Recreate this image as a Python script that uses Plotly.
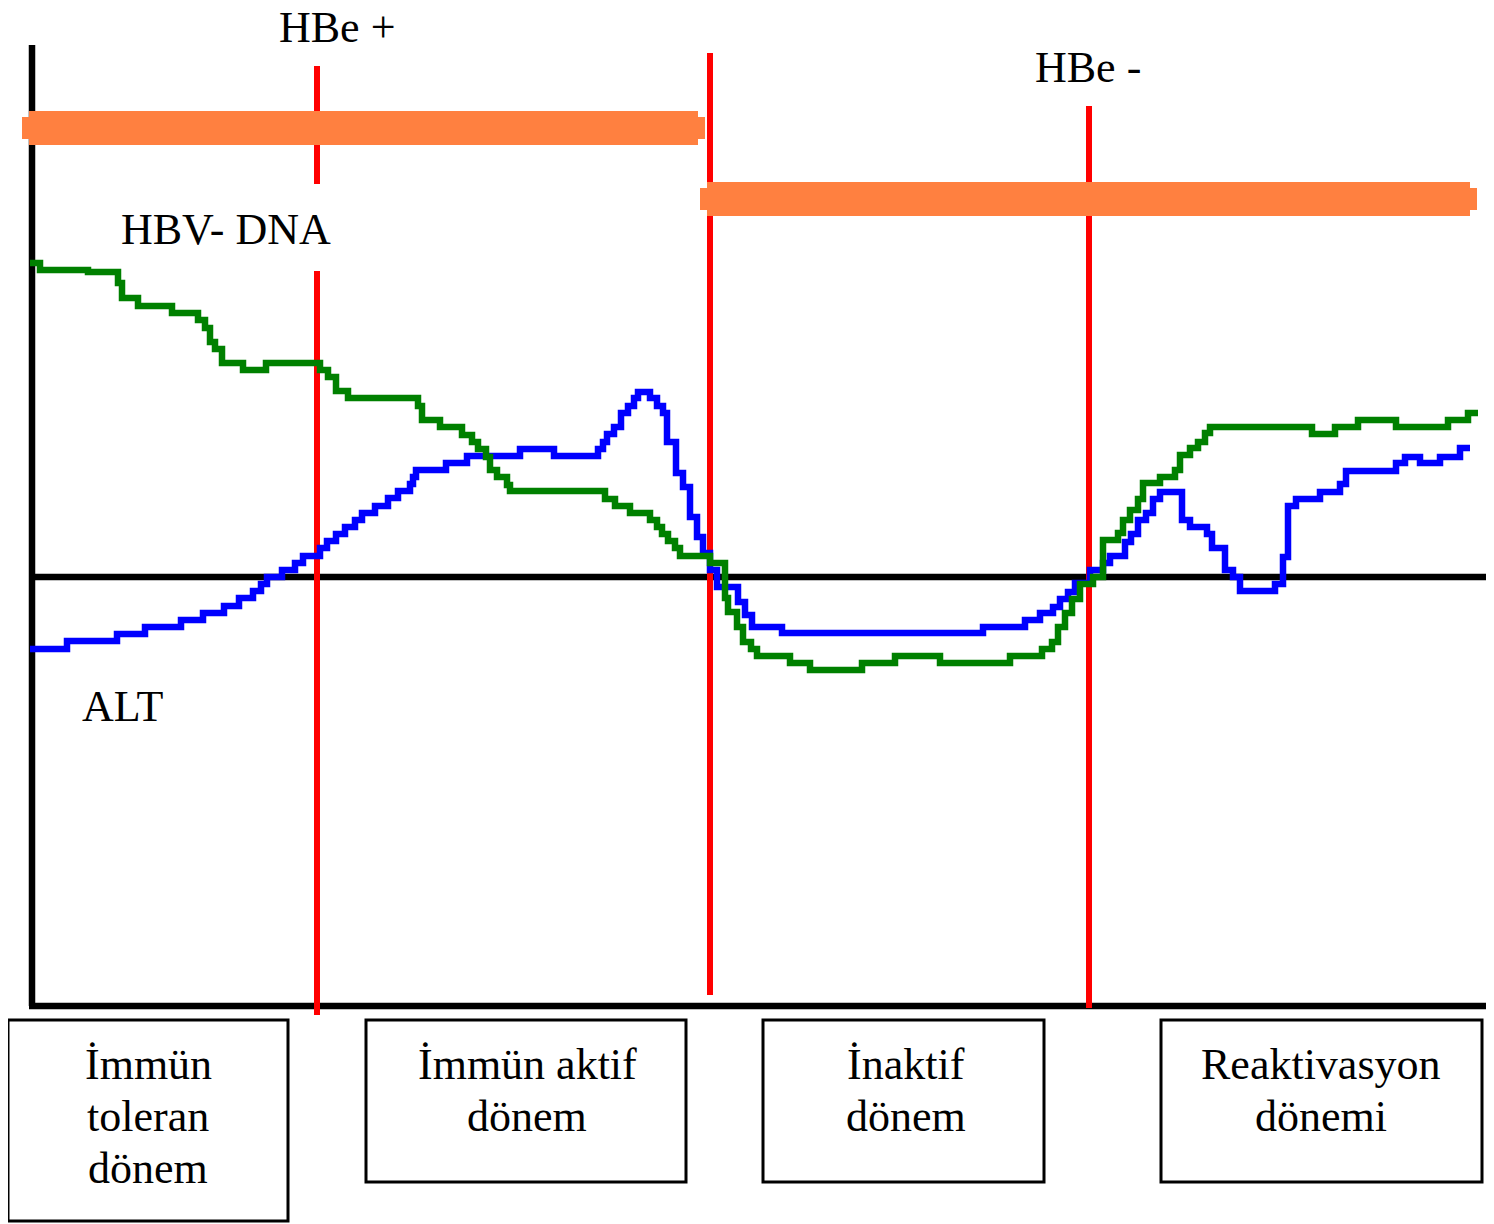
import plotly.graph_objects as go

# ---------------- data (diagram units = canvas pixels) ----------------
# HBV-DNA step curve: step start x and level y (y grows downward)
hbv_x = [30, 40, 88, 118, 122, 138, 172, 198, 205, 210, 215, 222, 243, 266, 320, 328, 336, 348,
         418, 422, 440, 462, 472, 478, 486, 490, 497, 507, 510, 605, 615, 630, 650, 657, 662, 668,
         675, 680, 710, 725, 728, 737, 743, 751, 757, 790, 810, 862, 895, 940, 1010, 1042, 1052,
         1058, 1065, 1072, 1080, 1093, 1103, 1118, 1123, 1130, 1138, 1143, 1160, 1175, 1180, 1190,
         1198, 1205, 1210, 1312, 1335, 1358, 1396, 1448, 1468, 1478]
hbv_y = [263, 270, 272, 283, 298, 306, 313, 320, 328, 342, 349, 363, 370, 363, 370, 377, 391, 398,
         406, 420, 427, 435, 442, 449, 457, 470, 477, 485, 491, 499, 506, 513, 520, 527, 534, 541,
         548, 556, 563, 598, 612, 627, 642, 649, 656, 663, 670, 663, 656, 663, 656, 649, 642,
         627, 613, 599, 584, 577, 540, 533, 520, 510, 499, 483, 477, 470, 455, 448,
         442, 433, 427, 434, 427, 420, 427, 420, 413, 413]

# ALT step curve
alt_x = [30, 67, 117, 145, 181, 203, 224, 239, 253, 261, 267, 282, 295, 303, 320, 327, 336, 345,
         355, 362, 375, 388, 398, 410, 413, 416, 446, 467, 520, 554, 598, 603, 607, 614, 621, 628,
         634, 638, 650, 657, 663, 667, 676, 683, 690, 697, 703, 710, 717, 738, 745, 752, 782, 983,
         1025, 1040, 1053, 1060, 1068, 1075, 1090, 1103, 1110, 1125, 1131, 1138, 1146, 1153, 1160,
         1182, 1190, 1207, 1212, 1225, 1233, 1240, 1275, 1283, 1288, 1296, 1320, 1340, 1346, 1396,
         1405, 1420, 1440, 1460, 1470]
alt_y = [649, 641, 634, 627, 620, 613, 606, 598, 591, 584, 577, 570, 563, 556, 548, 541, 534, 527,
         520, 513, 506, 498, 491, 484, 477, 470, 463, 456, 449, 456, 449, 442, 434, 427, 413, 406,
         398, 392, 398, 406, 413, 442, 473, 487, 517, 537, 553, 570, 587, 602, 615, 627, 633, 627,
         620, 613, 607, 599, 592, 583, 570, 563, 556, 542, 534, 520, 513, 499, 492,
         520, 527, 534, 548, 570, 577, 591, 584, 557, 506, 499, 492, 484, 471, 463,
         457, 463, 457, 448, 448]

# phase boundary (red) lines
boundary_x = [317, 710, 1089]
boundary_top = [66, 53, 106]
boundary_bottom = [1015, 995, 1008]
gap_first = [184, 271]  # gap in the first boundary line around the HBV-DNA label

# HBe status bars: x start, x end, y top, y bottom
hbe_bars_x0 = [22, 700]
hbe_bars_x1 = [705, 1477]
hbe_bars_y0 = [111, 182]
hbe_bars_y1 = [145, 216]

# phase boxes
box_x0 = [8, 366, 763, 1161]
box_x1 = [288, 686, 1044, 1482]
box_y0 = [1020, 1020, 1020, 1020]
box_y1 = [1221, 1182, 1182, 1182]
box_lines = [["İmmün", "toleran", "dönem"],
             ["İmmün aktif", "dönem"],
             ["İnaktif", "dönem"],
             ["Reaktivasyon", "dönemi"]]
box_text_x = [148, 527, 906, 1321]
box_line_y = [1064, 1116, 1168]

# labels
labels = ["HBe +", "HBe -", "HBV- DNA", "ALT"]
label_x = [337, 1088, 226, 123]
label_y = [27, 67, 229, 706]

# ---------------- figure ----------------
W, H = 1494, 1224
PAGE_MARGIN = 8  # browser default body margin
FONT = "Liberation Serif, Times New Roman, serif"
ORANGE = "#FF8040"

shapes = []
# axes and baseline
shapes.append(dict(type="line", x0=32, x1=32, y0=45, y1=1006, line=dict(color="black", width=6.5), layer="below"))
shapes.append(dict(type="line", x0=29, x1=W, y0=1006, y1=1006, line=dict(color="black", width=6.5), layer="below"))
shapes.append(dict(type="line", x0=32, x1=W, y0=577, y1=577, line=dict(color="black", width=6.5), layer="below"))

# red boundaries
for i, bx in enumerate(boundary_x):
    if i == 0:
        segs = [(boundary_top[i], gap_first[0]), (gap_first[1], boundary_bottom[i])]
    else:
        segs = [(boundary_top[i], boundary_bottom[i])]
    for a, b in segs:
        shapes.append(dict(type="line", x0=bx, x1=bx, y0=a, y1=b,
                           line=dict(color="#FF0000", width=6), layer="below"))

# orange bars
for x0, x1, y0, y1 in zip(hbe_bars_x0, hbe_bars_x1, hbe_bars_y0, hbe_bars_y1):
    shapes.append(dict(type="rect", x0=x0 + 7, x1=x1 - 7, y0=y0, y1=y1,
                       fillcolor=ORANGE, line=dict(width=0), layer="below"))
    shapes.append(dict(type="rect", x0=x0, x1=x1, y0=y0 + 6, y1=y1 - 6,
                       fillcolor=ORANGE, line=dict(width=0), layer="below"))

# boxes
for x0, x1, y0, y1 in zip(box_x0, box_x1, box_y0, box_y1):
    shapes.append(dict(type="rect", x0=x0, x1=x1, y0=y0, y1=y1,
                       line=dict(color="black", width=3), fillcolor="rgba(0,0,0,0)", layer="below"))

annotations = []
for t, x, y in zip(labels, label_x, label_y):
    annotations.append(dict(text=t, x=x, y=y, xref="x", yref="y", showarrow=False,
                            xanchor="center", yanchor="middle",
                            font=dict(family=FONT, size=44, color="black")))
for lines, x in zip(box_lines, box_text_x):
    for j, ln in enumerate(lines):
        annotations.append(dict(text=ln, x=x, y=box_line_y[j], xref="x", yref="y", showarrow=False,
                                xanchor="center", yanchor="middle",
                                font=dict(family=FONT, size=44, color="black")))

fig = go.Figure()
fig.add_trace(go.Scatter(x=alt_x, y=alt_y, mode="lines", line=dict(color="#0000FF", width=6.5, shape="hv"),
                         name="ALT", hoverinfo="skip"))
fig.add_trace(go.Scatter(x=hbv_x, y=hbv_y, mode="lines", line=dict(color="#008000", width=6.5, shape="hv"),
                         name="HBV-DNA", hoverinfo="skip"))

fig.update_layout(
    width=W - PAGE_MARGIN, height=H - PAGE_MARGIN,
    margin=dict(l=0, r=0, t=0, b=0),
    paper_bgcolor="white", plot_bgcolor="white",
    showlegend=False,
    xaxis=dict(range=[PAGE_MARGIN, W], visible=False, fixedrange=True),
    yaxis=dict(range=[H, PAGE_MARGIN], visible=False, fixedrange=True),
    shapes=shapes,
    annotations=annotations,
)

fig.write_html("out.html", config={"displayModeBar": False})
